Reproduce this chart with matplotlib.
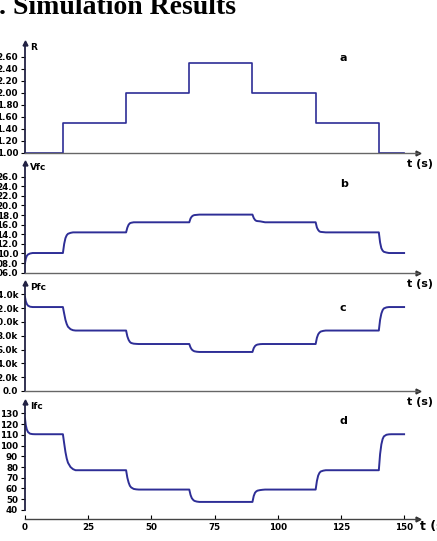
import numpy as np
import matplotlib.pyplot as plt
from matplotlib.ticker import FixedLocator, FuncFormatter

# load resistance steps
t_r = [0, 15, 40, 65, 90, 115, 140, 150]
r_val = [1.0, 1.5, 2.0, 2.5, 2.0, 1.5, 1.0, 1.0]

# time knots for the fuel cell responses (s)
t = [0, 0.3, 0.7, 1.2, 2, 3, 4,
     15, 15.5, 16, 16.5, 17, 18, 19, 20,
     40, 40.5, 41, 41.5, 42, 43, 44, 45,
     65, 65.5, 66, 66.5, 67, 68, 69, 70,
     90, 90.5, 91, 91.5, 92, 93, 94, 95,
     115, 115.5, 116, 116.5, 117, 118, 119, 120,
     140, 140.5, 141, 141.5, 142, 143, 144, 145,
     150]

vfc = [8.0, 8.9, 9.5, 9.8, 10.0, 10.1, 10.1,
       10.1, 12.0, 13.2, 13.8, 14.1, 14.3, 14.4, 14.4,
       14.4, 15.4, 16.0, 16.3, 16.4, 16.5, 16.5, 16.5,
       16.5, 17.3, 17.7, 17.9, 18.0, 18.05, 18.1, 18.1,
       18.1, 17.4, 17.0, 16.8, 16.75, 16.7, 16.6, 16.5,
       16.5, 15.4, 14.9, 14.6, 14.5, 14.45, 14.4, 14.4,
       14.4, 12.3, 11.1, 10.6, 10.35, 10.2, 10.1, 10.1,
       10.1]

pfc = [13.6, 13.0, 12.6, 12.35, 12.2, 12.15, 12.15,
       12.15, 11.2, 10.3, 9.7, 9.3, 8.95, 8.8, 8.75,
       8.75, 7.9, 7.4, 7.1, 6.95, 6.85, 6.82, 6.8,
       6.8, 6.3, 6.0, 5.85, 5.75, 5.68, 5.65, 5.65,
       5.65, 6.2, 6.5, 6.65, 6.72, 6.78, 6.8, 6.8,
       6.8, 7.7, 8.2, 8.45, 8.6, 8.7, 8.75, 8.75,
       8.75, 10.3, 11.2, 11.7, 11.95, 12.1, 12.15, 12.15,
       12.15]  # kW

ifc = [125, 119, 115, 112.5, 111, 110.6, 110.5,
       110.5, 102, 94, 88, 84, 80, 78, 77,
       77, 70, 65.5, 62.5, 61, 59.6, 59.2, 59,
       59, 54, 51, 49.5, 48.5, 47.8, 47.5, 47.5,
       47.5, 53, 56, 57.3, 58, 58.5, 58.8, 59,
       59, 67, 72, 74.5, 75.8, 76.6, 77, 77,
       77, 92, 101, 106, 108.5, 110, 110.4, 110.5,
       110.5]

W, H = 437, 541
fig = plt.figure(figsize=(W / 100, H / 100), dpi=100)

line_c = '#2e2e96'
fs = 6.3

def make_ax(top, bottom, ylim, ticks, fmt, ylabel, tag, tag_y, last=False):
    ax = fig.add_axes([25 / W, 1 - bottom / H, 393 / W, (bottom - top) / H])
    ax.patch.set_visible(False)
    ax.set_xlim(0, 155.5)
    ax.set_ylim(*ylim)
    for s in ['top', 'right']:
        ax.spines[s].set_visible(False)
    ax.spines['left'].set_color('#222244')
    ax.spines['left'].set_linewidth(1.3)
    ax.spines['bottom'].set_color('#444444' if last else '#666666')
    ax.spines['bottom'].set_linewidth(1.0)
    ax.yaxis.set_major_locator(FixedLocator(ticks))
    ax.yaxis.set_major_formatter(FuncFormatter(fmt))
    ax.tick_params(axis='y', direction='out', length=3, width=0.8, pad=2,
                   labelsize=fs)
    for lb in ax.get_yticklabels():
        lb.set_fontweight('bold')
    ax.plot(0, 1, '^', color='#222244', ms=3.5, transform=ax.transAxes, clip_on=False)
    ax.plot(1, 0, '>', color='#333333', ms=3.5, transform=ax.transAxes, clip_on=False)
    ax.text(0.012, 1.0, ylabel, transform=ax.transAxes, fontsize=6.5, fontweight='bold',
            va='top', ha='left')
    ax.text(124.5, ylim[0] + (ylim[1] - ylim[0]) * tag_y, tag, fontsize=8,
            fontweight='bold', ha='left', va='center')
    if not last:
        ax.set_xticks([])
        ax.text(1.005, -0.055, 't (s)', transform=ax.transAxes, fontsize=8,
                fontweight='bold', ha='center', va='top', zorder=10)
    return ax

# panel a
ax1 = make_ax(43, 153, (1.0, 2.83), [1.0, 1.2, 1.4, 1.6, 1.8, 2.0, 2.2, 2.4, 2.6],
              lambda v, p: '%.2f' % v, 'R', 'a', 0.86)
ax1.step(t_r, r_val, where='post', color=line_c, lw=1.2, clip_on=False)

# panel b
ax2 = make_ax(163, 272.7, (6.0, 28.85), list(range(6, 27, 2)),
              lambda v, p: '%04.1f' % v, 'Vfc', 'b', 0.81)
ax2.plot(t, vfc, color=line_c, lw=1.4)

# panel c
ax3 = make_ax(283, 391, (0.0, 15.63), list(range(0, 15, 2)),
              lambda v, p: '0.0' if v == 0 else '%.1fk' % v, 'Pfc', 'c', 0.77)
ax3.plot(t, pfc, color=line_c, lw=1.4)

# panel d
ax4 = make_ax(402, 519, (31.6, 140.5), list(range(40, 131, 10)),
              lambda v, p: '%d' % v, 'Ifc', 'd', 0.84, last=True)
ax4.spines['left'].set_bounds(40, 140.5)
ax4.plot(t, ifc, color=line_c, lw=1.4)
ax4.set_xticks([0, 25, 50, 75, 100, 125, 150])
ax4.tick_params(axis='x', direction='in', length=3, width=0.8, pad=3, labelsize=fs)
for lb in ax4.get_xticklabels():
    lb.set_fontweight('bold')
ax4.text(1.005, -0.01, 't (s)', transform=ax4.transAxes, fontsize=9, fontweight='bold',
         ha='left', va='top')

fig.text(-0.002, 1 - 14 / H, '. Simulation Results', fontsize=20, fontweight='bold',
         family='Liberation Serif', ha='left', va='baseline')

fig.savefig('out.png', dpi=100)
